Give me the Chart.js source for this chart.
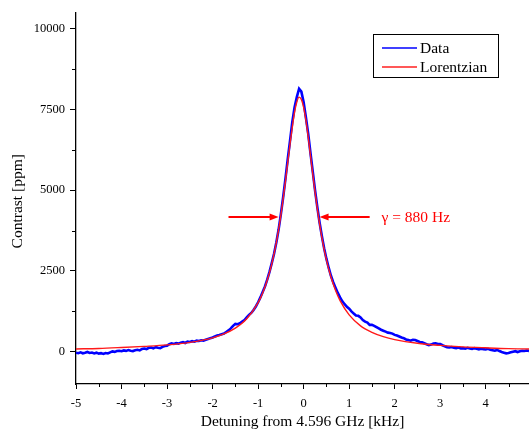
<!DOCTYPE html>
<html>
<head>
<meta charset="utf-8">
<script src="https://cdn.jsdelivr.net/npm/chart.js@4.4.0/dist/chart.umd.min.js"></script>
<style>
  html, body { margin: 0; padding: 0; background: #fff; }
  #wrap { width: 529px; height: 434px; }
</style>
</head>
<body>
<div id="wrap"><canvas id="chart"></canvas></div>
<script>
// axis ticks
const xTicks = [-5, -4, -3, -2, -1, 0, 1, 2, 3, 4];
const xMinor = [-4.5, -3.5, -2.5, -1.5, -0.5, 0.5, 1.5, 2.5, 3.5, 4.5];
const yTicks = [0, 2500, 5000, 7500, 10000];
const yMinor = [1250, 3750, 6250, 8750];

const xTitle = 'Detuning from 4.596 GHz [kHz]';
const yTitle = 'Contrast [ppm]';

// measured data, sampled every 0.05 kHz from -5 kHz
const dataStart = -5;
const dataStep = 0.05;
const dataValues = [
  -30, -45, -20, -50, -35, -10, -40, -25, -55, -30,
  -60, -45, -70, -40, -55, -20, 10, -5, 20, 30,
  15, 40, 25, 50, 30, 20, 45, 60, 40, 85,
  100, 80, 120, 130, 105, 140, 120, 110, 150, 175,
  185, 230, 255, 240, 265, 250, 280, 295, 270, 310,
  300, 325, 310, 340, 330, 355, 345, 370, 395, 420,
  440, 470, 500, 515, 540, 560, 610, 660, 720, 800,
  860, 850, 880, 930, 980, 1060, 1140, 1200, 1290, 1400,
  1530, 1680, 1850, 2020, 2230, 2470, 2740, 3030, 3380, 3780,
  4260, 4780, 5350, 5950, 6520, 7100, 7560, 7880, 8140, 8050,
  7720, 7250, 6750, 6150, 5580, 5000, 4480, 4000, 3580, 3200,
  2880, 2600, 2350, 2150, 1980, 1820, 1680, 1560, 1470, 1390,
  1330, 1250, 1180, 1120, 1110, 1060, 980, 930, 900, 830,
  830, 800, 760, 720, 680, 650, 620, 590, 580, 560,
  520, 500, 470, 440, 420, 380, 360, 340, 370, 360,
  330, 300, 290, 260, 230, 205, 220, 250, 260, 240,
  235, 200, 170, 140, 130, 145, 120, 110, 130, 100,
  110, 95, 120, 100, 85, 110, 90, 70, 95, 80,
  70, 90, 60, 45, 30, 55, 20, -10, -30, -50,
  -40, -20, 0, 15, -10, 10, 30, 20, 35, 25
];

// Lorentzian fit
const fitX = [-5, -4.5, -4, -3.5, -3, -2.5, -2, -1.75, -1.5, -1.25, -1, -0.9, -0.8, -0.7, -0.6, -0.5,
  -0.4, -0.3, -0.2, -0.15, -0.1, -0.05, 0, 0.05, 0.1, 0.2, 0.3, 0.4, 0.5, 0.6, 0.7, 0.8,
  1, 1.25, 1.5, 1.75, 2, 2.5, 3, 3.5, 4, 4.5, 4.95];
const fitY = [85, 100, 130, 165, 210, 290, 430, 550, 730, 1020, 1520, 1820, 2210, 2720, 3380, 4230,
  5270, 6420, 7410, 7730, 7880, 7810, 7560, 7160, 6650, 5500, 4430, 3540, 2840, 2310, 1900, 1580,
  1140, 800, 600, 465, 375, 260, 195, 150, 120, 95, 85];

// linewidth annotation
const gammaLabel = 'γ = 880 Hz';
const gammaLevel = 4170;
const arrowLeft = [-1.65, -0.55];
const arrowRight = [1.45, 0.35];
const gammaLabelX = 1.71;

const FONT = '"Liberation Serif", "Times New Roman", serif';

const dataPoints = dataValues.map((v, i) => ({ x: dataStart + i * dataStep, y: v }));
const fitPoints = fitX.map((v, i) => ({ x: v, y: fitY[i] }));

function arrow(ctx, x0, x1, yy) {
  const dir = Math.sign(x1 - x0);
  ctx.beginPath();
  ctx.moveTo(x0, yy);
  ctx.lineTo(x1 - dir * 6, yy);
  ctx.stroke();
  ctx.beginPath();
  ctx.moveTo(x1, yy);
  ctx.lineTo(x1 - dir * 9, yy - 3.5);
  ctx.lineTo(x1 - dir * 9, yy + 3.5);
  ctx.closePath();
  ctx.fill();
}

const overlay = {
  id: 'overlay',
  afterDraw(chart) {
    const { ctx, chartArea: a, scales: { x, y } } = chart;
    ctx.save();

    // minor ticks
    ctx.strokeStyle = '#000';
    ctx.lineWidth = 1;
    ctx.beginPath();
    xMinor.forEach(v => {
      const px = Math.round(x.getPixelForValue(v)) + 0.5;
      ctx.moveTo(px, a.bottom);
      ctx.lineTo(px, a.bottom + 3);
    });
    yMinor.forEach(v => {
      const py = Math.round(y.getPixelForValue(v)) + 0.5;
      ctx.moveTo(a.left - 4, py);
      ctx.lineTo(a.left, py);
    });
    ctx.stroke();

    // axis titles
    ctx.fillStyle = '#000';
    ctx.font = '15.5px ' + FONT;
    ctx.textAlign = 'center';
    ctx.textBaseline = 'middle';
    ctx.fillText(xTitle, (a.left + a.right) / 2, 422);
    ctx.save();
    ctx.translate(18, (a.top + a.bottom) / 2 + 3);
    ctx.rotate(-Math.PI / 2);
    ctx.fillText(yTitle, 0, 0);
    ctx.restore();

    // legend
    const bx = 373, by = 34, bw = 125, bh = 43;
    ctx.fillStyle = '#fff';
    ctx.fillRect(bx, by, bw, bh);
    ctx.strokeStyle = '#000';
    ctx.lineWidth = 1;
    ctx.strokeRect(bx + 0.5, by + 0.5, bw, bh);
    ctx.textAlign = 'left';
    ctx.font = '15.5px ' + FONT;
    [['Data', '#0000ff', 48], ['Lorentzian', '#ff2020', 67]].forEach(([label, color, ly]) => {
      ctx.strokeStyle = color;
      ctx.lineWidth = 1.5;
      ctx.beginPath();
      ctx.moveTo(382, ly);
      ctx.lineTo(417, ly);
      ctx.stroke();
      ctx.fillStyle = '#000';
      ctx.fillText(label, 420, ly + 1);
    });

    // gamma arrows
    const gy = y.getPixelForValue(gammaLevel);
    ctx.strokeStyle = '#ff0000';
    ctx.fillStyle = '#ff0000';
    ctx.lineWidth = 2;
    arrow(ctx, x.getPixelForValue(arrowLeft[0]), x.getPixelForValue(arrowLeft[1]), gy);
    arrow(ctx, x.getPixelForValue(arrowRight[0]), x.getPixelForValue(arrowRight[1]), gy);
    ctx.font = '15.5px ' + FONT;
    ctx.textAlign = 'left';
    ctx.fillText(gammaLabel, x.getPixelForValue(gammaLabelX), gy + 1);

    ctx.restore();
  }
};

new Chart(document.getElementById('chart'), {
  type: 'line',
  data: {
    datasets: [
      {
        label: 'Lorentzian',
        data: fitPoints,
        borderColor: '#ff1a1a',
        borderWidth: 1.4,
        pointRadius: 0,
        cubicInterpolationMode: 'monotone',
        order: 0
      },
      {
        label: 'Data',
        data: dataPoints,
        borderColor: '#0000ff',
        borderWidth: 2.6,
        pointRadius: 0,
        tension: 0,
        order: 1
      }
    ]
  },
  options: {
    responsive: true,
    maintainAspectRatio: false,
    animation: false,
    layout: { padding: { top: 10, right: 0, left: 0, bottom: 0 } },
    plugins: { legend: { display: false }, tooltip: { enabled: false } },
    scales: {
      x: {
        type: 'linear',
        min: -5,
        max: 4.95,
        afterBuildTicks: s => { s.ticks = xTicks.map(v => ({ value: v })); },
        afterFit: s => { s.height = 50; },
        grid: { drawOnChartArea: false, drawTicks: true, tickLength: 5, color: '#000', lineWidth: 1 },
        border: { display: true, color: '#000', width: 1.3 },
        ticks: { color: '#000', padding: 7, maxRotation: 0, callback: v => String(v), font: { family: FONT, size: 12.5 } }
      },
      y: {
        type: 'linear',
        min: -1000,
        max: 10500,
        afterBuildTicks: s => { s.ticks = yTicks.map(v => ({ value: v })); },
        afterFit: s => { s.width = 76; },
        grid: { drawOnChartArea: false, drawTicks: true, tickLength: 6, color: '#000', lineWidth: 1 },
        border: { display: true, color: '#000', width: 1.3 },
        ticks: { color: '#000', padding: 5, callback: v => String(v), font: { family: FONT, size: 12.5 } }
      }
    }
  },
  plugins: [overlay]
});
</script>
</body>
</html>
